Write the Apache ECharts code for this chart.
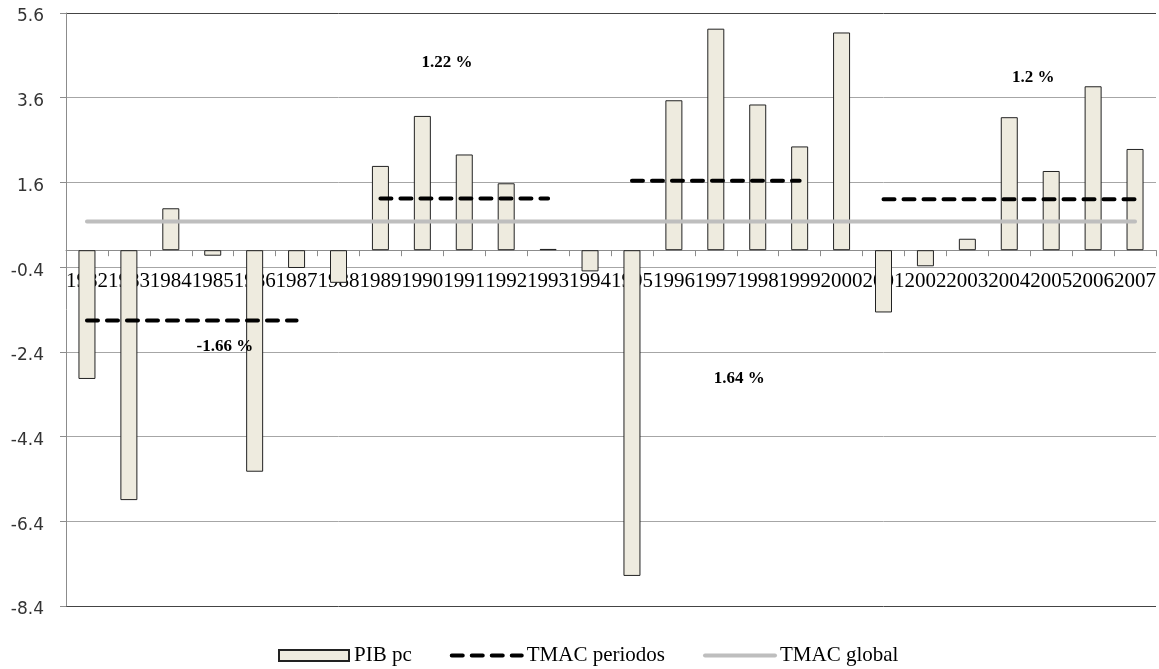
<!DOCTYPE html>
<html>
<head>
<meta charset="utf-8">
<script src="https://cdn.jsdelivr.net/npm/echarts@6/dist/echarts.min.js"></script>
<style>
html,body{margin:0;padding:0;background:#fff;}
#chart{width:1159px;height:669px;}
</style>
</head>
<body>
<div id="chart"></div>
<script>
const years = ['1982','1983','1984','1985','1986','1987','1988','1989','1990','1991','1992','1993','1994','1995','1996','1997','1998','1999','2000','2001','2002','2003','2004','2005','2006','2007'];
const pibPc = [-3.04,-5.90,0.99,-0.13,-5.23,-0.42,-0.77,1.99,3.17,2.26,1.58,0.03,-0.50,-7.69,3.54,5.23,3.44,2.45,5.14,-1.47,-0.38,0.27,3.14,1.87,3.87,2.39];
const periodStarts = ['1982','1989','1995','2001'];
const periodEnds = ['1987','1993','1999','2007'];
const periodRates = [-1.66, 1.22, 1.64, 1.2];
const globalRate = 0.68;
const yTicks = [-8.4,-6.4,-4.4,-2.4,-0.4,1.6,3.6,5.6];
const annotationTexts = ['1.22 %','-1.66 %','1.64 %','1.2 %'];
const annotationIdx = [8.59, 3.29, 15.56, 22.57];
const annotationVal = [4.43, -2.27, -3.04, 4.07];

// build period series (segments separated by nulls)
const periodData = years.map(() => null);
periodStarts.forEach((s, k) => {
  const a = years.indexOf(s), b = years.indexOf(periodEnds[k]);
  for (let i = a; i <= b; i++) periodData[i] = periodRates[k];
});
const globalData = years.map(() => globalRate);

const chart = echarts.init(document.getElementById('chart'), null, {renderer: 'canvas'});
const option = {
  animation: false,
  backgroundColor: '#ffffff',
  grid: {left: 66, right: 3, top: 13, bottom: 63, containLabel: false, outerBoundsMode: 'none'},
  legend: {
    left: 278, top: 645, padding: 0,
    itemWidth: 70, itemHeight: 11, itemGap: 38,
    textStyle: {fontFamily: 'Liberation Serif', fontSize: 21, color: '#000'},
    lineStyle: {width: 4},
    data: [{name: 'PIB pc', icon: 'rect'}, {name: 'TMAC periodos'}, {name: 'TMAC global'}]
  },
  xAxis: {
    type: 'category',
    data: years,
    position: 'bottom',
    boundaryGap: true,
    axisLine: {onZero: false, lineStyle: {color: '#8c8c8c', width: 1}},
    axisTick: {show: true, length: 6, interval: 0, alignWithLabel: false, lineStyle: {color: '#8c8c8c'}},
    axisLabel: {interval: 0, margin: 21, fontFamily: 'Liberation Serif', fontSize: 21, color: '#000'},
    splitLine: {show: false}
  },
  yAxis: {
    type: 'value',
    min: -8.4, max: 5.6,
    axisLine: {show: true, lineStyle: {color: '#8c8c8c'}},
    axisTick: {show: true, length: 6, customValues: yTicks, lineStyle: {color: '#8c8c8c'}},
    axisLabel: {customValues: yTicks, margin: 22, fontFamily: 'DejaVu Sans', fontSize: 17, color: '#333',
      verticalAlign: 'top', lineHeight: 8, formatter: v => v.toFixed(1)},
    splitLine: {show: true, lineStyle: {color: ['#444444','#a6a6a6','#a6a6a6','#a6a6a6','#a6a6a6','#a6a6a6','#a6a6a6','#444444'], width: 1}}
  },
  series: [
    {
      name: 'PIB pc', type: 'bar', data: pibPc, barWidth: 17,
      itemStyle: {color: '#EEEBDF', borderColor: '#222', borderWidth: 1},
      z: 2
    },
    {
      name: 'TMAC global', type: 'line', data: globalData, symbol: 'none',
      lineStyle: {color: '#BEBEBE', width: 4, cap: 'round'},
      itemStyle: {color: '#BEBEBE', opacity: 0},
      z: 3
    },
    {
      name: 'TMAC periodos', type: 'line', data: periodData, symbol: 'none', connectNulls: false,
      lineStyle: {color: '#000', width: 4, type: [11, 9], cap: 'round'},
      itemStyle: {color: '#000', opacity: 0},
      z: 4
    }
  ]
};
chart.setOption(option);

// place the category axis on the zero line (derived from the value scale)
const zeroY = chart.convertToPixel({yAxisIndex: 0}, 0);
const bottomY = chart.convertToPixel({yAxisIndex: 0}, -8.4);
chart.setOption({xAxis: {offset: -(bottomY - zeroY)}});

function pixelAt(idx, val) {
  const i0 = Math.floor(idx), f = idx - i0;
  const p0 = chart.convertToPixel({xAxisIndex: 0, yAxisIndex: 0}, [i0, val]);
  const p1 = chart.convertToPixel({xAxisIndex: 0, yAxisIndex: 0}, [i0 + 1, val]);
  return [p0[0] + f * (p1[0] - p0[0]), p0[1]];
}
chart.setOption({
  graphic: annotationTexts.map((t, k) => {
    const p = pixelAt(annotationIdx[k], annotationVal[k]);
    return {
      type: 'text', x: p[0], y: p[1], z: 10,
      style: {text: t, font: 'bold 17px "Liberation Serif"', fill: '#000', textAlign: 'center', textVerticalAlign: 'middle'}
    };
  })
});
</script>
</body>
</html>
